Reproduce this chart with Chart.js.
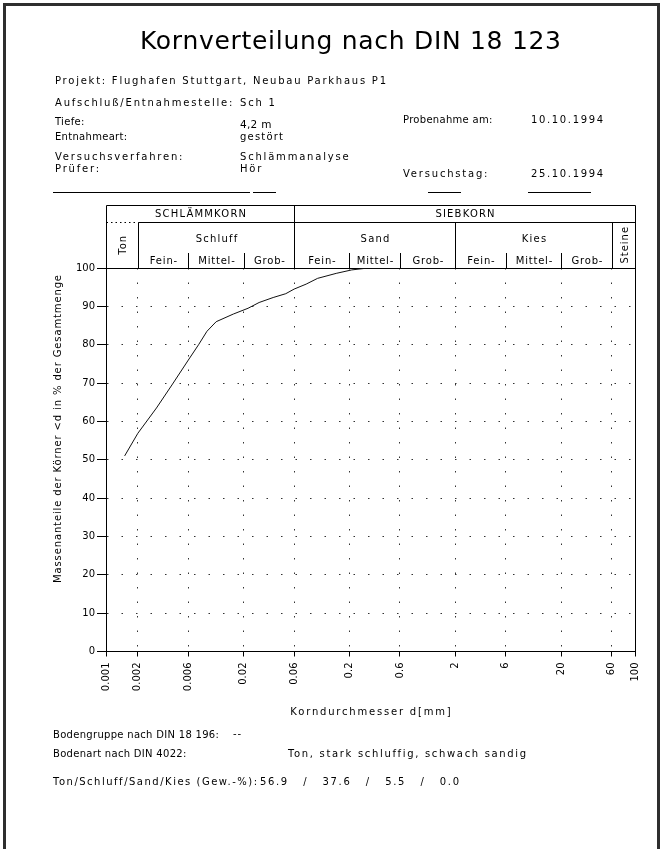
<!DOCTYPE html>
<html lang="de">
<head>
<meta charset="utf-8">
<title>Kornverteilung nach DIN 18 123</title>
<script src="https://cdn.jsdelivr.net/npm/chart.js@4.4.1/dist/chart.umd.min.js"></script>
<style>
  html, body { margin: 0; padding: 0; background: #fff; }
  #wrap { position: relative; width: 662px; height: 849px; }
</style>
</head>
<body>
<div id="wrap"><canvas id="sieve" width="662" height="849"></canvas></div>
<script>
// Sieb-/Schlämmlinie: Korndurchmesser [mm] und Siebdurchgang [%]
const grainSizes = [0.0015, 0.002, 0.003, 0.0042, 0.006, 0.0075, 0.009, 0.011, 0.016, 0.022, 0.028, 0.038, 0.05, 0.06, 0.078, 0.1, 0.15, 0.21, 0.3, 2];
const passing = [51, 56.9, 63.5, 69.5, 76, 80, 83.5, 86, 88, 89.5, 91, 92.3, 93.3, 94.5, 95.8, 97.3, 98.6, 99.5, 100, 100];

const xTicks = [0.001, 0.002, 0.006, 0.02, 0.06, 0.2, 0.6, 2, 6, 20, 60, 100];
const xTickLabels = ['0.001', '0.002', '0.006', '0.02', '0.06', '0.2', '0.6', '2', '6', '20', '60', '100'];

// Kopf der Tabelle über dem Diagramm
const groupLabels = ['SCHLÄMMKORN', 'SIEBKORN'];
const groupEdges = [0.001, 0.06, 100];
const soilLabels = ['Ton', 'Schluff', 'Sand', 'Kies', 'Steine'];
const soilEdges = [0.001, 0.002, 0.06, 2, 60, 100];
const subLabels = ['Fein-', 'Mittel-', 'Grob-'];
const subEdges = [[0.002, 0.006, 0.02, 0.06], [0.06, 0.2, 0.6, 2], [2, 6, 20, 60]];

// Massenanteile der Bodenarten
const fractionLabels = ['Ton', 'Schluff', 'Sand', 'Kies'];
const fractionValues = [56.9, 37.6, 5.5, 0.0];

const FONT = "'DejaVu Sans', sans-serif";
const INK = '#000';
const DOTS = [1.5, 13];

// Text mit Sperrung; mit w wird die Sperrung auf eine Breite gebracht (begrenzt)
function put(ctx, s, x, y, o = {}) {
  const size = o.size || 10;
  ctx.save();
  ctx.font = size + 'px ' + FONT;
  ctx.fillStyle = INK;
  ctx.textBaseline = o.baseline || 'alphabetic';
  ctx.textAlign = 'left';
  let sp = o.sp != null ? o.sp : 1;
  if (o.w) {
    ctx.letterSpacing = '0px';
    const w0 = ctx.measureText(s).width;
    sp = (o.w - w0) / Math.max(1, s.length - 1);
    sp = Math.min(1.8, Math.max(0.3, sp));
  }
  ctx.letterSpacing = sp + 'px';
  const w = ctx.measureText(s).width - sp;
  ctx.translate(x, y);
  if (o.rot) ctx.rotate(o.rot);
  let ox = 0;
  if (o.align === 'center') ox = -w / 2;
  else if (o.align === 'right') ox = -w;
  ctx.fillText(s, ox, 0);
  ctx.restore();
}

function seg(ctx, x1, y1, x2, y2, dash) {
  ctx.save();
  ctx.setLineDash(dash || []);
  ctx.beginPath();
  ctx.moveTo(x1, y1);
  ctx.lineTo(x2, y2);
  ctx.stroke();
  ctx.restore();
}

const sheet = {
  id: 'sheet',
  afterDraw(chart) {
    const ctx = chart.ctx;
    const area = chart.chartArea;
    const sx = chart.scales.x;
    const px = v => Math.round(sx.getPixelForValue(v)) + 0.5;

    // Blattrahmen
    ctx.save();
    ctx.strokeStyle = '#2e2e2e';
    ctx.lineWidth = 3;
    ctx.beginPath();
    ctx.moveTo(4.5, 849);
    ctx.lineTo(4.5, 4.5);
    ctx.lineTo(658.5, 4.5);
    ctx.lineTo(658.5, 849);
    ctx.stroke();
    ctx.restore();

    // Titel und Probenangaben
    put(ctx, 'Kornverteilung nach DIN 18 123', 140, 49, { size: 25, w: 421 });
    put(ctx, 'Projekt: Flughafen Stuttgart, Neubau Parkhaus P1', 55, 84, { w: 331 });
    put(ctx, 'Aufschluß/Entnahmestelle:', 55, 106, { w: 182 });
    put(ctx, 'Sch 1', 240, 106, { w: 37 });
    put(ctx, 'Tiefe:', 55, 125, { w: 27 });
    put(ctx, '4,2 m', 240, 128, { size: 10.5, w: 25 });
    put(ctx, 'Entnahmeart:', 55, 140, { w: 63 });
    put(ctx, 'gestört', 240, 140, { w: 43 });
    put(ctx, 'Versuchsverfahren:', 55, 160, { w: 130 });
    put(ctx, 'Schlämmanalyse', 240, 160, { w: 110 });
    put(ctx, 'Prüfer:', 55, 172, { w: 47 });
    put(ctx, 'Hör', 240, 172, { w: 23 });
    put(ctx, 'Probenahme am:', 403, 123, { w: 83 });
    put(ctx, '10.10.1994', 531, 123, { w: 72 });
    put(ctx, 'Versuchstag:', 403, 177, { w: 86 });
    put(ctx, '25.10.1994', 531, 177, { w: 72 });

    ctx.strokeStyle = INK;
    ctx.lineWidth = 1;
    [[53, 250], [253, 276], [428, 461], [528, 591]].forEach(p => seg(ctx, p[0], 192.5, p[1], 192.5));

    // Tabellenkopf
    const top = 205.5, row1 = 222.5, row2 = 253, base = area.top;
    seg(ctx, px(0.001), top, px(100), top);
    seg(ctx, px(0.001), top, px(0.001), base);
    seg(ctx, px(100), top, px(100), area.bottom);
    for (let i = 1; i < groupEdges.length - 1; i++) seg(ctx, px(groupEdges[i]), top, px(groupEdges[i]), base);
    seg(ctx, px(soilEdges[0]), row1, px(soilEdges[1]), row1, [1.5, 3]);
    seg(ctx, px(soilEdges[1]), row1, px(100), row1);
    for (let i = 1; i < soilEdges.length - 1; i++) seg(ctx, px(soilEdges[i]), row1, px(soilEdges[i]), base);
    subEdges.forEach(e => {
      for (let i = 1; i < e.length - 1; i++) seg(ctx, px(e[i]), row2, px(e[i]), base);
    });

    groupLabels.forEach((s, i) => {
      const c = (px(groupEdges[i]) + px(groupEdges[i + 1])) / 2;
      put(ctx, s, c, 217, { align: 'center', sp: 1.2 });
    });
    soilLabels.forEach((s, i) => {
      const c = (px(soilEdges[i]) + px(soilEdges[i + 1])) / 2;
      if (i === 0 || i === soilLabels.length - 1) {
        put(ctx, s, c + 1, (row1 + base) / 2, { align: 'center', baseline: 'middle', rot: -Math.PI / 2, sp: 1 });
      } else {
        put(ctx, s, c, 242, { align: 'center', sp: 1.2 });
      }
    });
    subEdges.forEach(e => {
      subLabels.forEach((s, i) => {
        const c = (px(e[i]) + px(e[i + 1])) / 2;
        put(ctx, s, c, 264, { align: 'center', sp: 0.8 });
      });
    });

    // Achsentitel
    put(ctx, 'Massenanteile der Körner <d in % der Gesamtmenge', 58, 429,
      { align: 'center', baseline: 'middle', rot: -Math.PI / 2, w: 308 });
    put(ctx, 'Korndurchmesser d[mm]', (area.left + area.right) / 2, 715, { align: 'center', w: 161 });

    // Auswertung
    put(ctx, 'Bodengruppe nach DIN 18 196:', 53, 738, { w: 147 });
    put(ctx, '--', 233, 737, { sp: 1 });
    put(ctx, 'Bodenart nach DIN 4022:', 53, 757, { w: 129 });
    put(ctx, 'Ton, stark schluffig, schwach sandig', 288, 757, { w: 238 });
    put(ctx, fractionLabels.join('/') + ' (Gew.-%):', 53, 785, { w: 204 });
    put(ctx, fractionValues.map(v => v.toFixed(1)).join('   /   '), 260, 785, { w: 199 });
  }
};

const tickFont = { family: FONT, size: 10 };
const clear = 'rgba(0,0,0,0)';

new Chart(document.getElementById('sieve'), {
  type: 'line',
  data: {
    datasets: [{
      data: grainSizes.map((d, i) => ({ x: d, y: passing[i] })),
      borderColor: '#111',
      borderWidth: 1,
      pointRadius: 0,
      tension: 0,
      fill: false
    }]
  },
  options: {
    responsive: false,
    devicePixelRatio: 1,
    animation: false,
    layout: { padding: { left: 66, top: 268, right: 27, bottom: 137.5 } },
    plugins: { legend: { display: false }, tooltip: { enabled: false } },
    scales: {
      x: {
        type: 'logarithmic',
        min: 0.001,
        max: 100,
        afterBuildTicks: s => { s.ticks = xTicks.map(v => ({ value: v })); },
        afterFit: s => { s.height = 60; },
        ticks: {
          autoSkip: false,
          minRotation: 90,
          maxRotation: 90,
          padding: 6,
          color: INK,
          font: tickFont,
          callback: (v, i) => xTickLabels[i]
        },
        grid: {
          color: c => (c.index === 0 ? clear : '#333'),
          lineWidth: 1,
          tickLength: 5,
          tickColor: INK
        },
        border: {
          display: true,
          color: INK,
          width: 1,
          dash: c => (c.tick && c.index > 0 && c.index < xTicks.length - 1 ? DOTS : [])
        }
      },
      y: {
        min: 0,
        max: 100,
        afterFit: s => { s.width = 40; },
        ticks: { stepSize: 10, padding: 2, color: INK, font: tickFont },
        grid: {
          color: c => (c.tick && c.tick.value === 0 ? clear : (c.tick && c.tick.value === 100 ? INK : '#333')),
          lineWidth: 1,
          tickLength: 9,
          tickColor: INK
        },
        border: {
          display: true,
          color: INK,
          width: 1,
          dash: c => (c.tick && c.tick.value > 0 && c.tick.value < 100 ? DOTS : [])
        }
      }
    }
  },
  plugins: [sheet]
});
</script>
</body>
</html>
